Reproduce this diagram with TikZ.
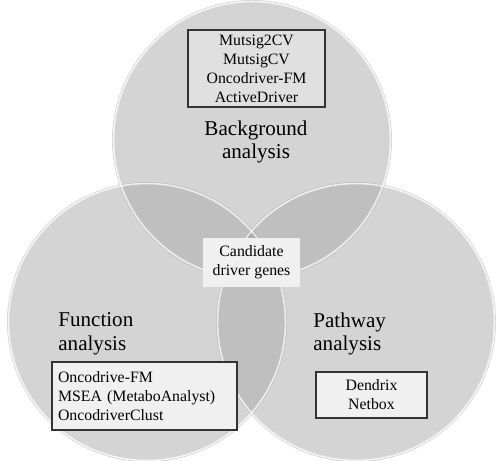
\documentclass[tikz,border=0pt]{standalone}
\usepackage{fontspec}
\setmainfont{Liberation Serif}
\usetikzlibrary{positioning}

\definecolor{setgray}{gray}{0.83}
\definecolor{pairgray}{gray}{0.75}
\definecolor{triplegray}{gray}{0.68}

\tikzset{
  setrim/.style={draw=white, draw opacity=0.75, line width=0.9pt},
  setlabel/.style={font=\fontsize{12}{13.6}\selectfont, inner sep=0pt},
  toolbox/.style={draw=black!80, line width=0.6pt, inner sep=0pt,
    font=\fontsize{9}{10.8}\selectfont},
}

\begin{document}
\begin{tikzpicture}[x=0.02cm, y=-0.02cm]
  \useasboundingbox (0,0) rectangle (500,460);

  % centres of the three sets
  \coordinate (bgc) at (252,140);
  \coordinate (fnc) at (147,322);
  \coordinate (pwc) at (356,322);

  % discs and overlaps
  \foreach \c in {bgc,fnc,pwc}
    \fill[setgray] (\c) circle [radius=2.8cm];
  \foreach \a/\b in {bgc/fnc,bgc/pwc,fnc/pwc}{
    \begin{scope}
      \clip (\a) circle [radius=2.8cm];
      \fill[pairgray] (\b) circle [radius=2.8cm];
    \end{scope}
  }
  \begin{scope}
    \clip (bgc) circle [radius=2.8cm];
    \clip (fnc) circle [radius=2.8cm];
    \fill[triplegray] (pwc) circle [radius=2.8cm];
  \end{scope}
  \foreach \c in {bgc,fnc,pwc}
    \draw[setrim] (\c) circle [radius=2.77cm];

  % Background
  \node[toolbox, fill=black!12, align=center, minimum width=2.74cm, minimum height=1.54cm]
    (bgtools) at (256.5,68.5) {Mutsig2CV\\MutsigCV\\Oncodriver-FM\\ActiveDriver};
  \node[setlabel, align=center] (bglabel) at (256,142) {Background\\analysis};

  % Function
  \node[setlabel, align=left, anchor=west] (fnlabel) at (58,334) {Function\\analysis};
  \node[toolbox, fill=black!6, align=left, text width=3.46cm, inner xsep=0.12cm,
    minimum height=1.36cm] (fntools) at (144.5,396)
    {Oncodrive-FM\\MSEA (MetaboAnalyst)\\OncodriverClust};

  % Pathway
  \node[setlabel, align=left, anchor=west] (pwlabel) at (313,334) {Pathway\\analysis};
  \node[toolbox, fill=black!6, align=center, minimum width=2.22cm, minimum height=0.92cm]
    (pwtools) at (371.5,395) {Dendrix\\Netbox};

  % centre
  \node[fill=black!6, inner sep=0pt, align=center, minimum width=1.94cm, minimum height=0.98cm,
    font=\fontsize{9}{10.8}\selectfont] (cand) at (251.5,262.5) {Candidate\\driver genes};
\end{tikzpicture}
\end{document}
